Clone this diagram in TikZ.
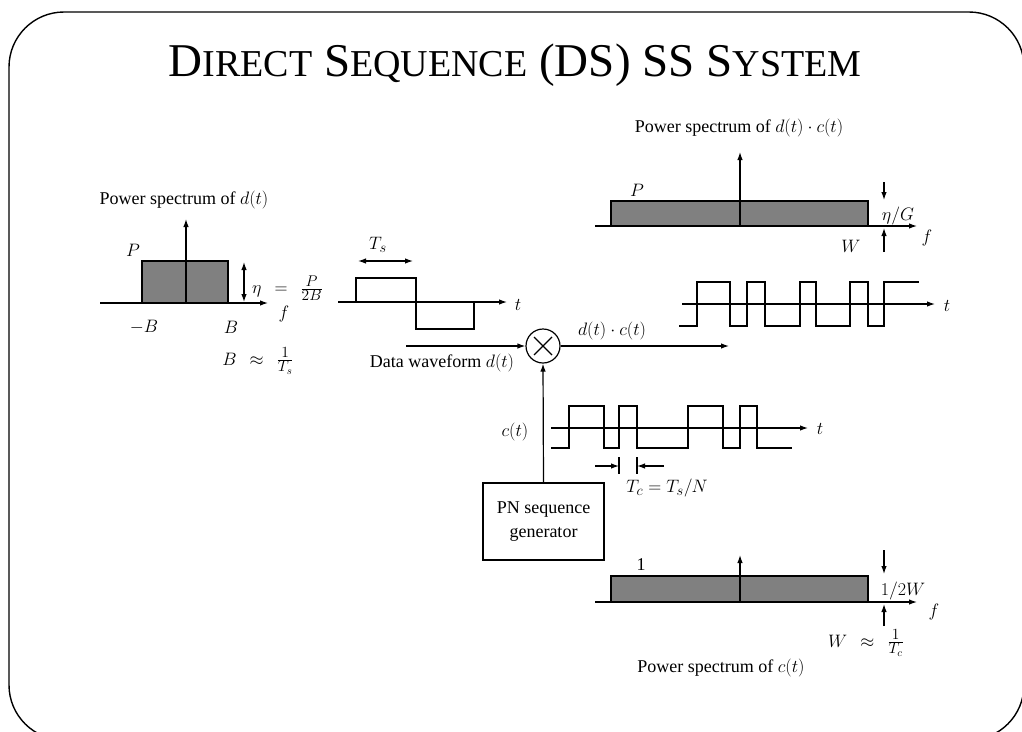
\RequirePackage{fix-cm}
\documentclass[tikz,border=0pt]{standalone}
\usepackage[no-math]{fontspec}
\setmainfont{Liberation Serif}
\usetikzlibrary{arrows.meta}
\DeclareMathSizes{18}{18}{14.5}{11}
\newcommand\bigTf{\fontsize{47}{47}\selectfont}
\newcommand\smTf{\fontsize{38}{38}\selectfont}
\newcommand\myfrac[2]{\frac{\mbox{\fontsize{15.5}{16}\selectfont$#1$}}{\mbox{\fontsize{15.5}{16}\selectfont$#2$}}}
\begin{document}
\begin{tikzpicture}[x=1pt,y=-1pt,
  every node/.style={inner sep=0pt,font=\fontsize{18}{24}\selectfont},
  ln/.style={line width=1.2pt},
  ar/.style={ln,-{Latex[length=8pt,width=5.5pt]}},
  dar/.style={ln,{Latex[length=8pt,width=5.5pt]}-{Latex[length=8pt,width=5.5pt]}},
  band/.style={ln,fill=black!50}]
\useasboundingbox (0,0) rectangle (1022,731);
% frame
\draw[line width=1.4pt,rounded corners=55pt] (9,12) rectangle (1024,740);
% title
\node[anchor=base,font=\bigTf] (title) at (515,76) {D{\smTf IRECT} S{\smTf EQUENCE} (DS) SS S{\smTf YSTEM}};

% ---- left spectrum of d(t)
\node (lt) at (184,200) {Power spectrum of $d(t)$};
\coordinate (lh0) at (100,303); \coordinate (lh1) at (268,303);
\coordinate (lv0) at (186,303); \coordinate (lv1) at (186,219);
\draw[band] (142,261) rectangle (228,303);
\draw[ar] (lh0) -- (lh1);
\draw[ar] (lv0) -- (lv1);
\coordinate (le0) at (244,262); \coordinate (le1) at (244,302);
\draw[dar] (le0) -- (le1);
\node (lP) at (133,250) {$P$};
\node[anchor=west] (leta) at (252,288) {$\eta\;\,=\;\,\myfrac{P}{2B}$};
\node (lf) at (284,314) {$f$};
\node (lmB) at (144,327) {$-B$};
\node (lB) at (231,327) {$B$};
\node (lBT) at (258,361) {$B\;\,\approx\;\,\myfrac{1}{T_s}$};

% ---- data waveform
\coordinate (dw0) at (338,302); \coordinate (dw1) at (507,302);
\draw[ar] (dw0) -- (dw1);
\node (dt) at (518,305) {$t$};
\draw[ln] (356,302) -- (356,278) -- (416,278) -- (416,329) -- (474,329) -- (474,302);
\coordinate (ts0) at (358,261); \coordinate (ts1) at (413,261);
\draw[dar] (ts0) -- (ts1);
\node (tsl) at (378,245) {$T_s$};

% ---- multiplier
\node[draw,circle,ln,minimum size=34pt] (mult) at (543,346) {};
\draw[ln] ([shift={(-9pt,-9pt)}]mult.center) -- ([shift={(9pt,9pt)}]mult.center);
\draw[ln] ([shift={(-9pt,9pt)}]mult.center) -- ([shift={(9pt,-9pt)}]mult.center);
\coordinate (din) at (406,346);
\draw[ar] (din) -- (mult.west);
\node (dwl) at (442,363) {Data waveform $d(t)$};
\coordinate (dout) at (729,346);
\draw[ar] (mult.east) -- (dout);
\node (dcl) at (612,331) {$d(t)\cdot c(t)$};

% ---- PN generator
\node[draw,ln,minimum width=121pt,minimum height=77pt,align=center] (pn) at (543.5,521.5) {PN sequence\\generator};
\draw[ar] (pn.north) -- (mult.south);

% ---- c(t) waveform
\node (ctl) at (515,432) {$c(t)$};
\coordinate (cw0) at (551,428); \coordinate (cw1) at (808,428);
\draw[ar] (cw0) -- (cw1);
\node (ct) at (820,429) {$t$};
\draw[ln] (551,448) -- (569,448) -- (569,406) -- (604,406) -- (604,448) -- (619,448) -- (619,406) -- (637,406) -- (637,448) -- (688,448) -- (688,406) -- (723,406) -- (723,448) -- (740,448) -- (740,406) -- (757,406) -- (757,448) -- (792,448);
\coordinate (tc0) at (595,466); \coordinate (tc1) at (619,466);
\coordinate (tc2) at (664,466); \coordinate (tc3) at (637,466);
\draw[ar] (tc0) -- (tc1);
\draw[ar] (tc2) -- (tc3);
\draw[ln] (619,457) -- (619,474);
\draw[ln] (637,457) -- (637,474);
\node (tcl) at (667,488) {$T_c=T_s/N$};

% ---- d(t)c(t) waveform
\coordinate (pw0) at (682,304); \coordinate (pw1) at (935,304);
\draw[ar] (pw0) -- (pw1);
\node (pt) at (947,306) {$t$};
\draw[ln] (679,326) -- (697,326) -- (697,282) -- (730,282) -- (730,326) -- (747,326) -- (747,282) -- (765,282) -- (765,326) -- (800,326) -- (800,282) -- (816,282) -- (816,326) -- (850,326) -- (850,282) -- (868,282) -- (868,326) -- (884,326) -- (884,282) -- (919,282);

% ---- spectrum of d(t)c(t)
\node (rt) at (739,128) {Power spectrum of $d(t)\cdot c(t)$};
\draw[band] (611,201) rectangle (868,226);
\coordinate (rh0) at (595,226); \coordinate (rh1) at (917,226);
\coordinate (rv0) at (740,226); \coordinate (rv1) at (740,152);
\draw[ar] (rh0) -- (rh1);
\draw[ar] (rv0) -- (rv1);
\coordinate (ra0) at (884,182); \coordinate (ra1) at (884,200);
\coordinate (ra2) at (884,252); \coordinate (ra3) at (884,228);
\draw[ar] (ra0) -- (ra1);
\draw[ar] (ra2) -- (ra3);
\node (rP) at (637,190) {$P$};
\node (rg) at (898,216) {$\eta/G$};
\node (rW) at (851,246) {$W$};
\node (rf) at (927,238) {$f$};

% ---- spectrum of c(t)
\draw[band] (611,576) rectangle (868,602);
\coordinate (bh0) at (595,602); \coordinate (bh1) at (917,602);
\coordinate (bv0) at (740,602); \coordinate (bv1) at (740,555);
\draw[ar] (bh0) -- (bh1);
\draw[ar] (bv0) -- (bv1);
\coordinate (ba0) at (884,550); \coordinate (ba1) at (884,574);
\coordinate (ba2) at (884,626); \coordinate (ba3) at (884,604);
\draw[ar] (ba0) -- (ba1);
\draw[ar] (ba2) -- (ba3);
\node (b1) at (641,565) {1};
\node (bw) at (903,591) {$1/2W$};
\node (bf) at (934,612) {$f$};
\node (bwt) at (866,643) {$W\;\,\approx\;\,\myfrac{1}{T_c}$};
\node (bt) at (721,668) {Power spectrum of $c(t)$};
\end{tikzpicture}
\end{document}
